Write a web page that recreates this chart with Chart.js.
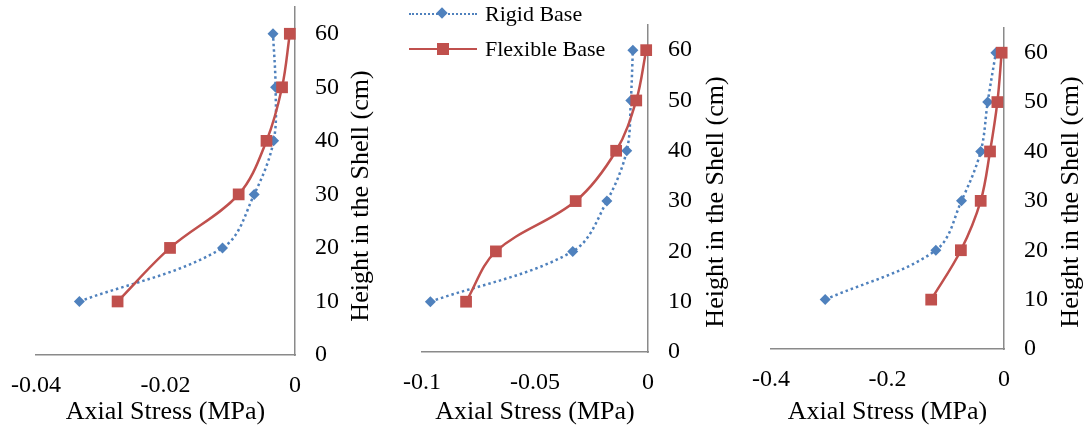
<!DOCTYPE html>
<html>
<head>
<meta charset="utf-8">
<script src="https://cdn.jsdelivr.net/npm/chart.js@4/dist/chart.umd.min.js"></script>
<style>
    body { margin: 0; background: #fff; }
    #wrap { position: relative; width: 1089px; height: 430px; overflow: hidden; font-family: "Liberation Serif", "Times New Roman", serif; }
    .panel { position: absolute; top: 0; height: 430px; }
    .legend-row { position: absolute; left: 409px; height: 22px; }
    .legend-line { position: absolute; left: 0; width: 68px; }
    .legend-text { position: absolute; left: 76px; font-size: 22px; line-height: 22px; white-space: nowrap; color: #000; }
</style>
</head>
<body>
<div id="wrap">
    <div class="panel" style="left:0px;width:375px"><canvas id="c1" width="375" height="430"></canvas></div>
    <div class="panel" style="left:370px;width:360px"><canvas id="c2" width="360" height="430"></canvas></div>
    <div class="panel" style="left:730px;width:359px"><canvas id="c3" width="359" height="430"></canvas></div>

    <!-- legend -->
    <div class="legend-row" style="top:3px">
        <div class="legend-line" style="top:10px;border-top:2.5px dotted #4f81bd"></div>
        <div style="position:absolute;left:29px;top:6px;width:8px;height:8px;background:#4f81bd;transform:rotate(45deg)"></div>
        <div class="legend-text" style="top:0px">Rigid Base</div>
    </div>
    <div class="legend-row" style="top:38px">
        <div class="legend-line" style="top:10px;border-top:2.5px solid #c0504d"></div>
        <div style="position:absolute;left:28px;top:5px;width:12px;height:12px;background:#c0504d"></div>
        <div class="legend-text" style="top:0px">Flexible Base</div>
    </div>
</div>

<script>
// data //

const heights = [10, 20, 30, 40, 50, 60];

// panel 1
const rigid1 = [-0.0333, -0.0112, -0.0063, -0.0033, -0.0030, -0.0034];
const flex1  = [-0.0274, -0.0193, -0.0087, -0.0044, -0.0020, -0.0008];
// panel 2
const rigid2 = [-0.0963, -0.0333, -0.0182, -0.0094, -0.0076, -0.0067];
const flex2  = [-0.0805, -0.0673, -0.0320, -0.0141, -0.0052, -0.0008];
// panel 3
const rigid3 = [-0.307, -0.117, -0.073, -0.040, -0.028, -0.014];
const flex3  = [-0.125, -0.074, -0.040, -0.024, -0.0114, -0.004];

const xTicks1 = [-0.04, -0.02, 0];
const xTicks2 = [-0.1, -0.05, 0];
const xTicks3 = [-0.4, -0.2, 0];
const yTicks = [0, 10, 20, 30, 40, 50, 60];

const xTitle = "Axial Stress (MPa)";
const yTitle = "Height in the Shell (cm)";
const seriesNames = ["Rigid Base", "Flexible Base"];

// helpers //

const FONT = "'Liberation Serif', 'Times New Roman', serif";

function points(xs) {
    return xs.map((x, i) => ({ x: x, y: heights[i] }));
}

function fmt(v) {
    return String(Math.round(v * 1000) / 1000);
}

// y title reads bottom-to-top, chart.js draws right titles the other way
const yTitlePlugin = {
    id: 'yTitle',
    afterDraw(chart, args, opts) {
        const ctx = chart.ctx;
        ctx.save();
        ctx.translate(opts.x, opts.y);
        ctx.rotate(-Math.PI / 2);
        ctx.font = "26px " + FONT;
        ctx.fillStyle = '#000';
        ctx.textAlign = 'center';
        ctx.textBaseline = 'middle';
        ctx.fillText(yTitle, 0, 0);
        ctx.restore();
    }
};

function makeChart(id, rigid, flex, xTicks, box) {
    const ctx = document.getElementById(id).getContext('2d');
    return new Chart(ctx, {
        type: 'scatter',
        data: {
            datasets: [
                {
                    label: seriesNames[0],
                    data: points(rigid),
                    showLine: true,
                    borderColor: '#4f81bd',
                    backgroundColor: '#4f81bd',
                    borderWidth: 2.5,
                    borderDash: [2.5, 3],
                    tension: 0.35,
                    pointStyle: 'rectRot',
                    pointRadius: 5.5,
                    pointBorderWidth: 0,
                    clip: false,
                    order: 1
                },
                {
                    label: seriesNames[1],
                    data: points(flex),
                    showLine: true,
                    borderColor: '#c0504d',
                    backgroundColor: '#c0504d',
                    borderWidth: 2.5,
                    tension: 0.35,
                    pointStyle: 'rect',
                    pointRadius: 8.3,
                    pointBorderWidth: 0,
                    clip: false,
                    order: 0
                }
            ]
        },
        options: {
            responsive: false,
            animation: false,
            events: [],
            layout: { autoPadding: false, padding: { left: box.left, top: box.top, right: 0, bottom: 0 } },
            plugins: {
                legend: { display: false },
                tooltip: { enabled: false },
                yTitle: { x: box.titleX, y: box.titleY }
            },
            scales: {
                x: {
                    type: 'linear',
                    position: 'bottom',
                    min: xTicks[0],
                    max: xTicks[xTicks.length - 1],
                    afterBuildTicks: s => { s.ticks = xTicks.map(v => ({ value: v })); },
                    afterFit: s => {
                        s.height = 430 - box.bottom;
                        s.paddingLeft = 0;
                        s.paddingRight = 0;
                    },
                    grid: { display: false, drawTicks: false },
                    border: { display: true, color: '#8a8a8a', width: 1.5 },
                    ticks: {
                        padding: 16,
                        maxRotation: 0,
                        autoSkip: false,
                        color: '#000',
                        font: { family: FONT, size: 24 },
                        callback: v => fmt(v)
                    },
                    title: {
                        display: true,
                        text: xTitle,
                        color: '#000',
                        font: { family: FONT, size: 26 },
                        padding: { top: 0, bottom: 2 }
                    }
                },
                y: {
                    type: 'linear',
                    position: 'right',
                    min: 0,
                    max: 65,
                    afterBuildTicks: s => { s.ticks = yTicks.map(v => ({ value: v })); },
                    afterFit: s => {
                        s.width = box.canvasW - box.right;
                        s.paddingTop = 0;
                        s.paddingBottom = 0;
                    },
                    grid: { display: false, drawTicks: false },
                    border: { display: true, color: '#8a8a8a', width: 1.5 },
                    ticks: {
                        padding: 20,
                        autoSkip: false,
                        color: '#000',
                        font: { family: FONT, size: 24 },
                        callback: v => fmt(v)
                    },
                    title: { display: false }
                }
            }
        },
        plugins: [yTitlePlugin]
    });
}

makeChart('c1', rigid1, flex1, xTicks1, { canvasW: 375, left: 36, right: 295, top: 7, bottom: 355, titleX: 361, titleY: 196 });
makeChart('c2', rigid2, flex2, xTicks2, { canvasW: 360, left: 52, right: 278, top: 25, bottom: 352, titleX: 346, titleY: 202 });
makeChart('c3', rigid3, flex3, xTicks3, { canvasW: 359, left: 41, right: 274, top: 28, bottom: 349, titleX: 341, titleY: 202 });
</script>
</body>
</html>
